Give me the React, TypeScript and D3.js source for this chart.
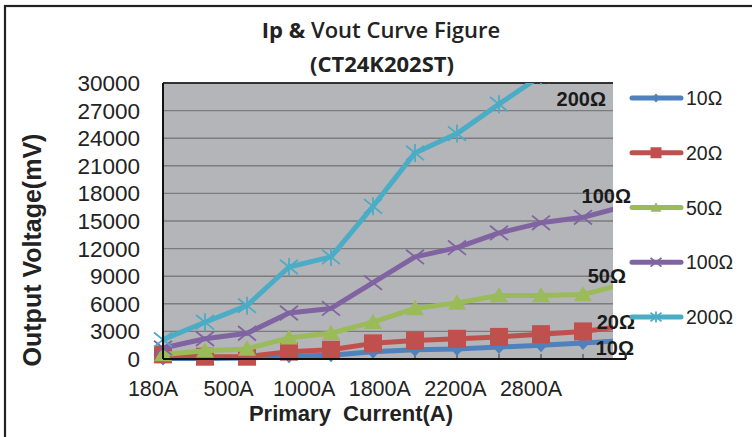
import React from "react";
import * as d3 from "d3";

// x categories (primary current) and the labels Excel printed under the axis
const categories = ["180A", "300A", "500A", "750A", "1000A", "1500A", "1800A", "2000A", "2200A", "2500A", "2800A", "3000A"];
const tickLabels = ["180A", "500A", "1000A", "1800A", "2200A", "2800A"];
const yTicks = [0, 3000, 6000, 9000, 12000, 15000, 18000, 21000, 24000, 27000, 30000];

const seriesNames = ["10Ω", "20Ω", "50Ω", "100Ω", "200Ω"];
const v10 = [50, 50, 100, 300, 400, 800, 1000, 1100, 1300, 1500, 1750, 2000];
const v20 = [500, 250, 250, 800, 1000, 1700, 2000, 2200, 2400, 2700, 3000, 3600];
const v50 = [500, 900, 1100, 2300, 2800, 4000, 5500, 6100, 6900, 6900, 7000, 8200];
const v100 = [1200, 2200, 2800, 5000, 5500, 8300, 11100, 12100, 13700, 14800, 15400, 16600];
const v200 = [2100, 4000, 5800, 10000, 11100, 16600, 22400, 24500, 27700, 30800, 32000, 33500];

const colors = ["#4F81BD", "#C0504D", "#9BBB59", "#8064A2", "#4BACC6"];
const markers = ["diamond", "square", "triangle", "x", "star"];
// data label nudges next to the last point
const labelDx = [9, 10, 1, 6, -19];
const labelDy = [14, 3, -1, -3, 23];

const W = 752;
const H = 437;
const left = 163;
const right = 613;
const top = 83;
const bottom = 359;

function markerPath(kind: string, s: number): string {
  const h = s / 2;
  switch (kind) {
    case "diamond":
      return `M0,${-h}L${h * 0.9},0L0,${h}L${-h * 0.9},0Z`;
    case "square":
      return `M${-h},${-h}H${h}V${h}H${-h}Z`;
    case "triangle":
      return `M0,${-h * 0.95}L${h},${h * 0.75}L${-h},${h * 0.75}Z`;
    case "x":
      return `M${-h},${-h * 0.8}L${h},${h * 0.8}M${-h},${h * 0.8}L${h},${-h * 0.8}`;
    default:
      return `M${-h},${-h * 0.8}L${h},${h * 0.8}M${-h},${h * 0.8}L${h},${-h * 0.8}M0,${-h}V${h}`;
  }
}

const Marker: React.FC<{ kind: string; color: string; x: number; y: number; s: number }> = ({ kind, color, x, y, s }) => {
  const open = kind === "x" || kind === "star";
  return (
    <path
      d={markerPath(kind, s)}
      transform={`translate(${x},${y})`}
      fill={open ? "none" : color}
      stroke={color}
      strokeWidth={open ? 1.8 : 0}
    />
  );
};

export default function App() {
  const allValues = [v10, v20, v50, v100, v200];
  const x = d3.scalePoint<string>().domain(categories).range([left, 625]);
  const y = d3.scaleLinear().domain([0, 30000]).range([bottom, top]);
  const xLab = d3.scalePoint<string>().domain(tickLabels).range([153, 531]);
  const legendY = d3.scalePoint<string>().domain(seriesNames).range([98, 317]);

  const line = d3
    .line<number>()
    .x((_, i) => x(categories[i]) as number)
    .y((d) => y(d));

  const font = "'Liberation Sans', Arial, sans-serif";

  return (
    <svg width={W} height={H} style={{ position: "fixed", left: 0, top: 0, background: "#fff" }}>
      <defs>
        <clipPath id="plotClip">
          <rect x={140} y={top} width={right - 140} height={40 + bottom - top} />
        </clipPath>
      </defs>
      <rect x={5} y={6} width={760} height={450} fill="#fff" stroke="#222" strokeWidth={2.2} />

      {/* title */}
      <text x={381} y={38} textAnchor="middle" fontFamily="'Open Sans', sans-serif" fontSize={22} fill="#222">
        <tspan fontWeight={700}>Ip &amp; </tspan>
        <tspan fontWeight={600}>Vout Curve Figure</tspan>
      </text>
      <text x={382} y={72} textAnchor="middle" fontFamily="'Open Sans', sans-serif" fontSize={22} fontWeight={700} fill="#222">
        (CT24K202ST)
      </text>

      {/* plot area */}
      <rect x={left} y={top} width={right - left} height={bottom - top} fill="#B4B5B8" />
      {yTicks.map((t) => (
        <line key={t} x1={left} x2={right} y1={y(t)} y2={y(t)} stroke="#7c7c7e" strokeWidth={1.4} />
      ))}
      <line x1={left} x2={right} y1={top} y2={top} stroke="#111" strokeWidth={1.6} />
      {categories.map((c) => (
        <line key={c} x1={x(c)} x2={x(c)} y1={bottom} y2={bottom - 5} stroke="#333" strokeWidth={1} />
      ))}

      {yTicks.map((t) => (
        <text key={t} x={140} y={y(t) + 8} textAnchor="end" fontFamily={font} fontSize={22.5} fill="#222">
          {t}
        </text>
      ))}
      {tickLabels.map((t) => (
        <text key={t} x={xLab(t)} y={396} textAnchor="middle" fontFamily={font} fontSize={21.5} fill="#222">
          {t}
        </text>
      ))}

      {/* series */}
      <g clipPath="url(#plotClip)">
        {allValues.map((vals, si) => (
          <g key={si}>
            <path d={line(vals) || ""} fill="none" stroke={colors[si]} strokeWidth={5} strokeLinejoin="round" />
            {vals.map((v, i) => (
              <Marker key={i} kind={markers[si]} color={colors[si]} x={x(categories[i]) as number} y={y(v)} s={si === 0 ? 14 : 18} />
            ))}
          </g>
        ))}
      </g>

      <line x1={left} x2={left} y1={top} y2={bottom} stroke="#111" strokeWidth={2} />
      <line x1={left} x2={626} y1={bottom} y2={bottom} stroke="#111" strokeWidth={2} />
      <line x1={626} x2={626} y1={bottom - 6} y2={bottom} stroke="#111" strokeWidth={1.5} />

      {/* data labels at the last point */}
      {allValues.map((vals, si) => {
        const last = vals[vals.length - 1];
        return (
          <text
            key={si}
            x={(x(categories[categories.length - 1]) as number) + labelDx[si]}
            y={y(Math.min(last, 30000)) + labelDy[si]}
            textAnchor="end"
            fontFamily={font}
            fontWeight="bold"
            fontSize={20}
            fill="#1a1a1a"
          >
            {seriesNames[si]}
          </text>
        );
      })}

      {/* axis titles */}
      <text
        transform={`translate(41,250) rotate(-90)`}
        textAnchor="middle"
        fontFamily={font}
        fontWeight="bold"
        fontSize={25}
        fill="#222"
      >
        Output Voltage(mV)
      </text>
      <text x={351} y={421} textAnchor="middle" fontFamily={font} fontWeight="bold" fontSize={22} fill="#222" style={{ whiteSpace: "pre" }}>
        {"Primary  Current(A)"}
      </text>

      {/* legend */}
      {seriesNames.map((n, si) => {
        const ly = legendY(n) as number;
        return (
          <g key={n}>
            <line x1={632} x2={681} y1={ly} y2={ly} stroke={colors[si]} strokeWidth={5} strokeLinecap="round" />
            <Marker kind={markers[si]} color={colors[si]} x={656} y={ly} s={si === 0 ? 9 : 11} />
            <text x={686} y={ly + 7} fontFamily={font} fontSize={19.5} fill="#222">
              {n}
            </text>
          </g>
        );
      })}
    </svg>
  );
}
